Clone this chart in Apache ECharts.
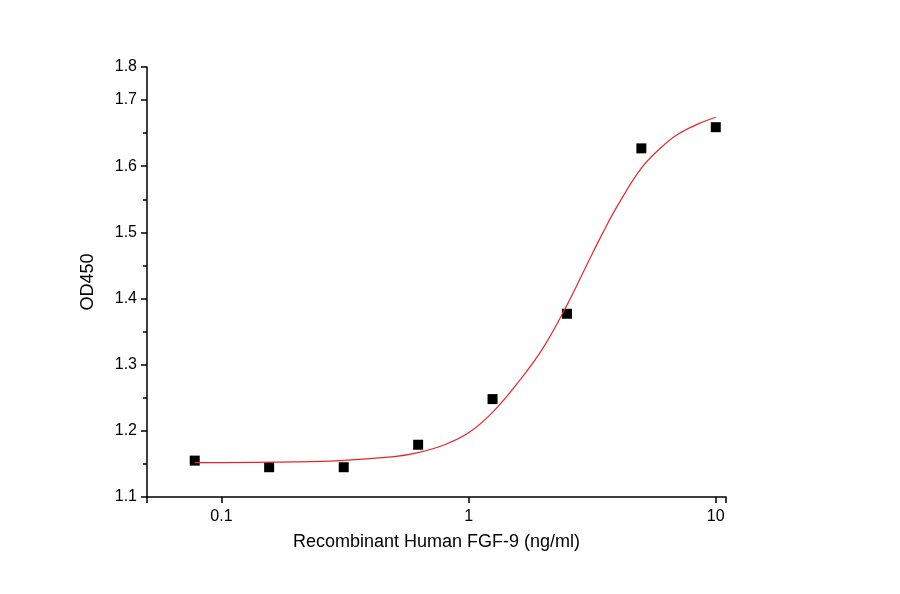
<!DOCTYPE html>
<html>
<head>
<meta charset="utf-8">
<script src="https://cdn.jsdelivr.net/npm/echarts@6/dist/echarts.min.js"></script>
<style>html,body{margin:0;background:#fff}#c{width:900px;height:594px}</style>
</head>
<body>
<div id="c"></div>
<script>
// measured points
const conc = [0.078, 0.156, 0.3125, 0.625, 1.25, 2.5, 5, 10];
const od = [1.155, 1.145, 1.145, 1.179, 1.248, 1.377, 1.627, 1.659];
// fitted curve
const fitX = [0.078, 0.1, 0.2, 0.3, 0.5, 0.625, 0.8, 1, 1.25, 1.6, 2, 2.5, 3, 3.5, 4, 5, 6, 7, 8.5, 10];
const fitY = [1.152, 1.152, 1.153, 1.155, 1.161, 1.167, 1.179, 1.197, 1.228, 1.275, 1.325, 1.39, 1.45, 1.50, 1.54, 1.597, 1.628, 1.648, 1.664, 1.674];

const axisCommon = {
  axisLine: { lineStyle: { color: '#000', width: 1.5 } },
  axisTick: { inside: false, length: 6, lineStyle: { color: '#000', width: 1.5 } },
  axisLabel: { color: '#000', fontSize: 16, fontFamily: 'Liberation Sans, Arial' },
  splitLine: { show: false },
  nameTextStyle: { color: '#000', fontSize: 18, fontFamily: 'Liberation Sans, Arial' }
};

const chart = echarts.init(document.getElementById('c'));
chart.setOption({
  animation: false,
  grid: { left: 147, right: 174, top: 67, bottom: 97 },
  xAxis: Object.assign({}, axisCommon, {
    type: 'log', logBase: 10, min: 0.05, max: 11,
    name: 'Recombinant Human FGF-9 (ng/ml)', nameLocation: 'middle', nameGap: 36,
    axisLabel: Object.assign({}, axisCommon.axisLabel, {
      margin: 12,
      formatter: v => ({ 0.1: '0.1', 1: '1', 10: '10' }[+v.toPrecision(3)] || '')
    })
  }),
  yAxis: Object.assign({}, axisCommon, {
    type: 'value', min: 1.1, max: 1.75, interval: 0.1,
    name: 'OD450', nameLocation: 'middle', nameGap: 50,
    axisLabel: Object.assign({}, axisCommon.axisLabel, {
      margin: 10, formatter: v => (v > 1.75 ? '' : v.toFixed(1))
    }),
    minorTick: { show: true, splitNumber: 2, length: 4, lineStyle: { color: '#000', width: 1.5 } }
  }),
  series: [
    {
      type: 'line', smooth: 0.4, showSymbol: false,
      lineStyle: { color: '#e8262a', width: 1.2 },
      data: fitX.map((x, i) => [x, fitY[i]])
    },
    {
      type: 'scatter', symbol: 'rect', symbolSize: 10,
      itemStyle: { color: '#000', opacity: 1 },
      data: conc.map((x, i) => [x, od[i]])
    }
  ]
});
</script>
</body>
</html>
